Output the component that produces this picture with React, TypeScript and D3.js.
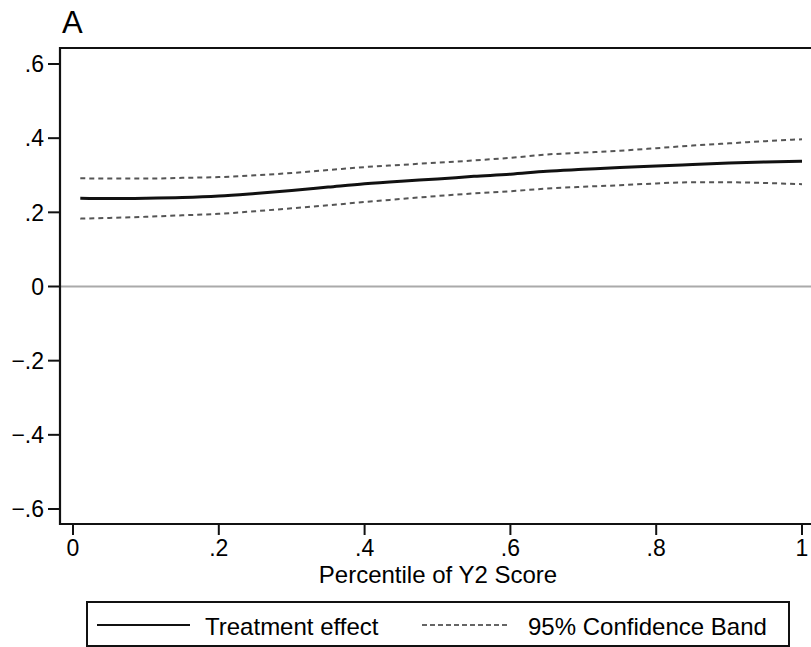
import React from "react";
import * as d3 from "d3";

const pctl = [0.01, 0.05, 0.1, 0.15, 0.2, 0.25, 0.3, 0.35, 0.4, 0.45, 0.5, 0.55, 0.6, 0.65, 0.7, 0.75, 0.8, 0.85, 0.9, 0.95, 1.0];
const effect = [0.238, 0.237, 0.238, 0.24, 0.244, 0.251, 0.259, 0.268, 0.277, 0.284, 0.29, 0.297, 0.303, 0.311, 0.316, 0.321, 0.325, 0.329, 0.333, 0.336, 0.338];
const lower = [0.183, 0.185, 0.188, 0.192, 0.196, 0.203, 0.211, 0.219, 0.228, 0.236, 0.244, 0.251, 0.257, 0.264, 0.269, 0.273, 0.278, 0.281, 0.281, 0.279, 0.276];
const upper = [0.292, 0.291, 0.291, 0.293, 0.295, 0.3, 0.306, 0.314, 0.322, 0.328, 0.334, 0.34, 0.347, 0.356, 0.361, 0.366, 0.373, 0.38, 0.386, 0.392, 0.397];
const xTicks = [0, 0.2, 0.4, 0.6, 0.8, 1];
const xTickLabels = ["0", ".2", ".4", ".6", ".8", "1"];
const yTicks = [0.6, 0.4, 0.2, 0, -0.2, -0.4, -0.6];
const yTickLabels = [".6", ".4", ".2", "0", "\u2212.2", "\u2212.4", "\u2212.6"];

const W = 811;
const H = 647;
const FONT = "'Liberation Sans', Arial, Helvetica, sans-serif";

export default function App() {
  const x = d3.scaleLinear().domain([0, 1]).range([73, 802]);
  const y = d3.scaleLinear().domain([-0.6, 0.6]).range([509, 64]);
  const frameLeft = 60;
  const frameTop = 48;
  const frameBottom = 524;

  const line = (vals: number[]) =>
    d3
      .line<number>()
      .x((_, i) => x(pctl[i]))
      .y((d) => y(d))
      .curve(d3.curveMonotoneX)(vals) || "";

  return (
    <svg
      width={W}
      height={H}
      style={{ position: "absolute", left: 0, top: 0, background: "#fff" }}
      fontFamily={FONT}
    >
      <rect x={0} y={0} width={W} height={H} fill="#fff" />
      <text x={62} y={33} fontSize={31} fill="#000">A</text>

      {/* zero line */}
      <line x1={frameLeft} x2={W + 10} y1={y(0)} y2={y(0)} stroke="#aaa" strokeWidth={2} />

      {/* frame */}
      <path
        d={`M${W + 10},${frameTop} H${frameLeft} V${frameBottom} H${W + 10}`}
        fill="none"
        stroke="#111"
        strokeWidth={2.2}
      />

      {/* y ticks */}
      {yTicks.map((t, i) => (
        <g key={"y" + i}>
          <line x1={48} x2={frameLeft} y1={y(t)} y2={y(t)} stroke="#111" strokeWidth={2} />
          <text x={44} y={y(t)} dy="0.36em" textAnchor="end" fontSize={23} fill="#000">
            {yTickLabels[i]}
          </text>
        </g>
      ))}

      {/* x ticks */}
      {xTicks.map((t, i) => (
        <g key={"x" + i}>
          <line x1={x(t)} x2={x(t)} y1={frameBottom} y2={frameBottom + 11} stroke="#111" strokeWidth={2} />
          <text x={x(t)} y={556} textAnchor="middle" fontSize={23} fill="#000">
            {xTickLabels[i]}
          </text>
        </g>
      ))}
      <text x={438} y={583} textAnchor="middle" fontSize={24} fill="#000">
        Percentile of Y2 Score
      </text>

      {/* series */}
      <path d={line(upper)} fill="none" stroke="#555" strokeWidth={2} strokeDasharray="5,4" />
      <path d={line(lower)} fill="none" stroke="#555" strokeWidth={2} strokeDasharray="5,4" />
      <path d={line(effect)} fill="none" stroke="#111" strokeWidth={3} />

      {/* legend */}
      <rect x={87} y={602} width={702} height={44} fill="#fff" stroke="#111" strokeWidth={2} />
      <line x1={97} x2={190} y1={625} y2={625} stroke="#111" strokeWidth={2} />
      <text x={205} y={635} fontSize={24} fill="#000">Treatment effect</text>
      <line x1={422} x2={510} y1={625} y2={625} stroke="#333" strokeWidth={1.6} strokeDasharray="5,3" />
      <text x={528} y={635} fontSize={24} fill="#000">95% Confidence Band</text>
    </svg>
  );
}
